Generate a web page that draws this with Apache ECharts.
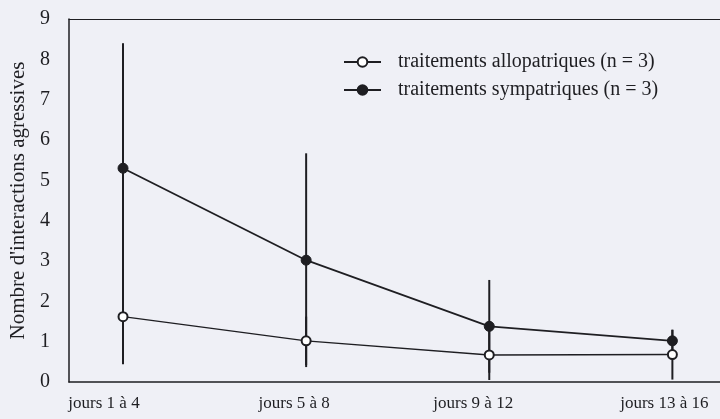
<!DOCTYPE html>
<html>
<head>
<meta charset="utf-8">
<script src="https://cdn.jsdelivr.net/npm/echarts@6/dist/echarts.min.js"></script>
<style>
  html, body { margin: 0; padding: 0; background: #eff0f6; }
  #chart { width: 720px; height: 419px; }
</style>
</head>
<body>
<div id="chart"></div>
<script>
// Periods of observation
const categories = ['jours 1 à 4', 'jours 5 à 8', 'jours 9 à 12', 'jours 13 à 16'];
const positions = [1, 2, 3, 4];

// Mean number of aggressive interactions and spread per period
const allopatric = [1.62, 1.02, 0.67, 0.68];
const allopatricErr = [1.18, 0.6, 0.62, 0.62];
const sympatric = [5.3, 3.02, 1.38, 1.02];
const sympatricErr = [3.1, 2.65, 1.15, 0.27];

const yTicks = [0, 1, 2, 3, 4, 5, 6, 7, 8, 9];

const ink = '#1e1e22';
const serif = '"Liberation Serif", "DejaVu Serif", serif';

function pairs(values) {
  return positions.map((x, i) => [x, values[i]]);
}
function bars(values, errs) {
  return positions.map((x, i) => [x, values[i] - errs[i], values[i] + errs[i]]);
}

function errorBar(params, api) {
  const x = api.value(0);
  const lo = api.coord([x, Math.max(0, api.value(1))]);
  const hi = api.coord([x, api.value(2)]);
  return {
    type: 'line',
    shape: { x1: lo[0], y1: lo[1], x2: hi[0], y2: hi[1] },
    style: { stroke: ink, lineWidth: 2 }
  };
}

const chart = echarts.init(document.getElementById('chart'));
chart.setOption({
  backgroundColor: '#eff0f6',
  animation: false,
  grid: { left: 69, right: 0, top: 19, bottom: 37 },
  legend: {
    orient: 'vertical',
    left: 338,
    top: 47,
    itemWidth: 37,
    itemHeight: 12,
    itemGap: 8,
    textStyle: { fontFamily: serif, fontSize: 20, color: ink, padding: [0, 0, 0, 12] },
    data: ['traitements allopatriques (n = 3)', 'traitements sympatriques (n = 3)']
  },
  xAxis: [{
    type: 'value',
    min: 0.705,
    max: 4.26,
    splitLine: { show: false },
    axisTick: { show: false },
    axisLine: { show: true, lineStyle: { color: ink, width: 1.5 } },
    axisLabel: {
      customValues: positions,
      margin: 13,
      fontFamily: serif,
      fontSize: 17,
      color: ink,
      formatter: v => {
        const i = positions.indexOf(v);
        return i < 0 ? '' : '{p' + i + '|' + categories[i] + '}';
      },
      rich: {
        p0: { padding: [0, 38, 0, 0], fontFamily: serif, fontSize: 17, color: ink },
        p1: { padding: [0, 24, 0, 0], fontFamily: serif, fontSize: 17, color: ink },
        p2: { padding: [0, 32, 0, 0], fontFamily: serif, fontSize: 17, color: ink },
        p3: { padding: [0, 16, 0, 0], fontFamily: serif, fontSize: 17, color: ink }
      }
    }
  }, {
    type: 'value',
    position: 'top',
    min: 0.705,
    max: 4.26,
    splitLine: { show: false },
    axisTick: { show: false },
    axisLabel: { show: false },
    axisLine: { show: true, lineStyle: { color: ink, width: 1.2 } }
  }],
  yAxis: {
    type: 'value',
    min: yTicks[0],
    max: yTicks[yTicks.length - 1],
    interval: 1,
    name: "Nombre d'interactions agressives",
    nameLocation: 'middle',
    nameGap: 33,
    nameTextStyle: { fontFamily: serif, fontSize: 21, color: ink },
    splitLine: { show: false },
    axisTick: { show: false },
    axisLine: { show: true, lineStyle: { color: ink, width: 1.5 } },
    axisLabel: { margin: 19, fontFamily: serif, fontSize: 20, color: ink }
  },
  series: [
    {
      type: 'custom',
      renderItem: errorBar,
      data: bars(sympatric, sympatricErr),
      z: 1,
      silent: true
    },
    {
      type: 'custom',
      renderItem: errorBar,
      data: bars(allopatric, allopatricErr),
      z: 1,
      silent: true
    },
    {
      name: 'traitements allopatriques (n = 3)',
      type: 'line',
      data: pairs(allopatric),
      symbol: 'circle',
      symbolSize: 9,
      z: 3,
      lineStyle: { color: ink, width: 1.4 },
      itemStyle: { color: '#ffffff', borderColor: ink, borderWidth: 2 }
    },
    {
      name: 'traitements sympatriques (n = 3)',
      type: 'line',
      data: pairs(sympatric),
      symbol: 'circle',
      symbolSize: 10,
      z: 3,
      lineStyle: { color: ink, width: 1.8 },
      itemStyle: { color: ink, borderColor: ink, borderWidth: 1 }
    }
  ]
});
</script>
</body>
</html>
